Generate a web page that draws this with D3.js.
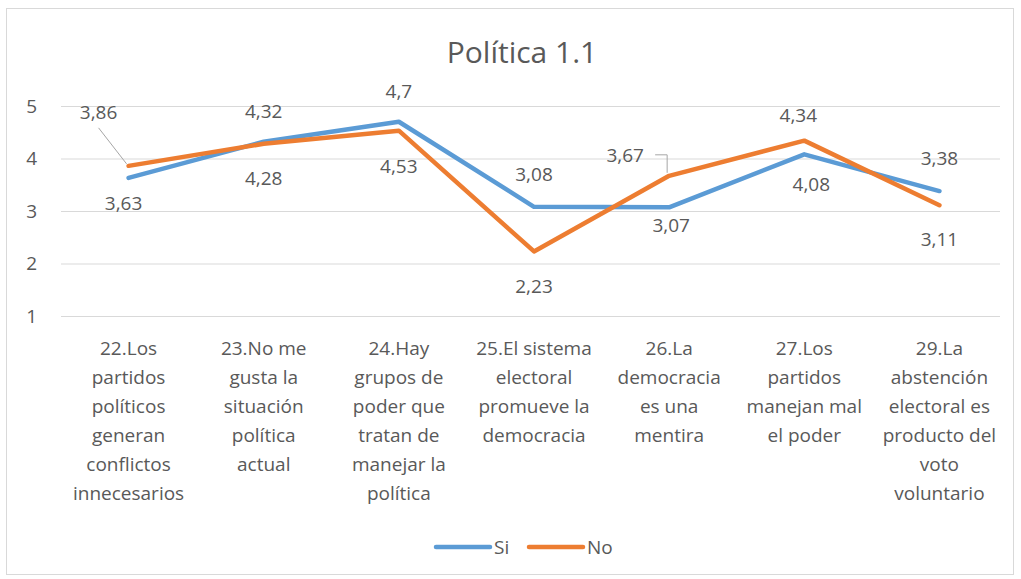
<!DOCTYPE html>
<html>
<head>
<meta charset="utf-8">
<script src="https://cdn.jsdelivr.net/npm/d3@7"></script>
<style>
  body { margin: 0; background: #fff; }
  text { font-family: "Open Sans", sans-serif; fill: #595959; }
</style>
</head>
<body>
<svg id="chart"></svg>
<script>
// data
var categories = [
    ["22.Los", "partidos", "políticos", "generan", "conflictos", "innecesarios"],
    ["23.No me", "gusta la", "situación", "política", "actual"],
    ["24.Hay", "grupos de", "poder que", "tratan de", "manejar la", "política"],
    ["25.El sistema", "electoral", "promueve la", "democracia"],
    ["26.La", "democracia", "es una", "mentira"],
    ["27.Los", "partidos", "manejan mal", "el poder"],
    ["29.La", "abstención", "electoral es", "producto del", "voto", "voluntario"]
];
var siValues = [3.63, 4.32, 4.7, 3.08, 3.07, 4.08, 3.38];
var noValues = [3.86, 4.28, 4.53, 2.23, 3.67, 4.34, 3.11];
var yTicks = [1, 2, 3, 4, 5];
var seriesNames = ["Si", "No"];

// label offsets from the point (dx, dy of text centre)
var siLabelOff = [[-5, 25], [0, -30], [0, -30], [0, -32], [2, 18], [7, 30], [0, -33]];
var noLabelOff = [[-30, -54], [0, 35], [0, 36], [0, 35], [-44, -20], [-6, -25], [0, 34]];

var width = 1021, height = 579;
var margin = { left: 61, right: 14 };
var colors = ["#5B9BD5", "#ED7D31"];

var svg = d3.select("#chart").attr("width", width).attr("height", height);

// chart frame
svg.append("rect")
    .attr("x", 6.5).attr("y", 8.5)
    .attr("width", 1007).attr("height", 566)
    .attr("fill", "#fff").attr("stroke", "#d9d9d9");

var xScale = d3.scaleBand().domain(d3.range(categories.length))
    .range([margin.left, width - margin.right]);
var yScale = d3.scaleLinear().domain([1, 5]).range([316, 106]);

// title
svg.append("text")
    .attr("x", 522).attr("y", 63)
    .attr("text-anchor", "middle")
    .style("font-size", "30px")
    .text("Política 1.1");

// gridlines + y labels
var yAxis = svg.append("g")
    .attr("transform", "translate(" + margin.left + ",0)")
    .call(d3.axisLeft(yScale).tickValues(yTicks).tickFormat(d3.format("d"))
        .tickSize(-(width - margin.left - margin.right - 7)).tickPadding(24));
yAxis.select(".domain").remove();
yAxis.selectAll(".tick line").attr("stroke", "#d9d9d9");
yAxis.selectAll(".tick text")
    .style("font-size", "19px")
    .style("font-family", "'Open Sans', sans-serif")
    .attr("fill", "#595959");

// category labels
var catG = svg.append("g").selectAll("text")
    .data(categories).enter().append("text")
    .attr("text-anchor", "middle")
    .style("font-size", "19px");
catG.selectAll("tspan")
    .data(function (d, i) { return d.map(function (s) { return [s, i]; }); })
    .enter().append("tspan")
    .attr("x", function (d) { return xScale(d[1]) + xScale.bandwidth() / 2; })
    .attr("y", function (d, j) { return 355 + j * 29; })
    .text(function (d) { return d[0]; });

var cx = function (i) { return xScale(i) + xScale.bandwidth() / 2; };
var line = d3.line()
    .x(function (d, i) { return cx(i); })
    .y(function (d) { return yScale(d); });

// leader lines
var p0 = [cx(0), yScale(noValues[0])];
svg.append("line")
    .attr("x1", p0[0] - 30).attr("y1", p0[1] - 38)
    .attr("x2", p0[0] - 2).attr("y2", p0[1] - 2)
    .attr("stroke", "#a6a6a6");
var p4 = [cx(4), yScale(noValues[4])];
svg.append("path")
    .attr("d", "M" + (p4[0] - 14) + "," + (p4[1] - 21) + "H" + (p4[0] - 2) + "V" + (p4[1] - 3))
    .attr("fill", "none").attr("stroke", "#a6a6a6");

// lines
[siValues, noValues].forEach(function (vals, s) {
    svg.append("path")
        .datum(vals)
        .attr("d", line)
        .attr("fill", "none")
        .attr("stroke", colors[s])
        .attr("stroke-width", 4.5)
        .attr("stroke-linejoin", "round")
        .attr("stroke-linecap", "round");
});

// data labels
[[siValues, siLabelOff], [noValues, noLabelOff]].forEach(function (pair) {
    svg.append("g").selectAll("text")
        .data(pair[0]).enter().append("text")
        .attr("x", function (d, i) { return cx(i) + pair[1][i][0]; })
        .attr("y", function (d, i) { return yScale(d) + pair[1][i][1]; })
        .attr("dy", "0.35em")
        .attr("text-anchor", "middle")
        .style("font-size", "19px")
        .text(function (d) { return String(d).replace(".", ","); });
});

// legend
var legend = svg.append("g").selectAll("g")
    .data(seriesNames).enter().append("g")
    .attr("transform", function (d, i) { return "translate(" + (436 + i * 93) + ",547)"; });
legend.append("line")
    .attr("x1", 0).attr("x2", 54)
    .attr("stroke", function (d, i) { return colors[i]; })
    .attr("stroke-width", 4.5)
    .attr("stroke-linecap", "round");
legend.append("text")
    .attr("x", 58).attr("dy", "0.35em")
    .style("font-size", "19px")
    .text(function (d) { return d; });
</script>
</body>
</html>
